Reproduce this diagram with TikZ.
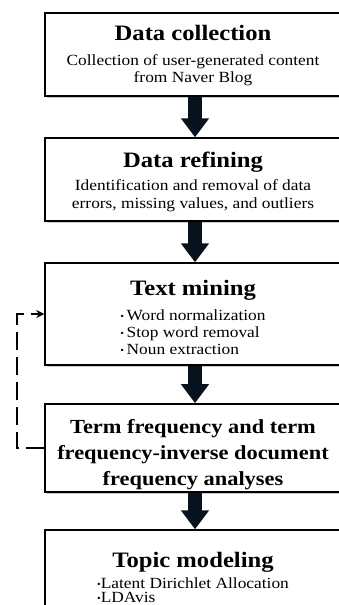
\documentclass[tikz,border=0pt]{standalone}
\usepackage{fontspec}
\setmainfont[FakeStretch=1.12]{Liberation Serif}
\usetikzlibrary{arrows.meta,shadows}
\definecolor{arrowblk}{RGB}{8,18,30}
\newcommand{\tbul}{\raisebox{0.2ex}{\scalebox{0.6}{\textbullet}}}
\newcommand{\ttlf}{\fontsize{22}{26}\selectfont\bfseries}
\newcommand{\bodyf}{\fontsize{15.5}{17.5}\selectfont}
\newcommand{\tstrut}[1]{\rule{0pt}{#1}}
\tikzset{
  stagebox/.style={draw=black, line width=1.4pt, fill=white, minimum width=296pt,
    align=center, inner sep=2pt, font=\bodyf,
    drop shadow={shadow xshift=1.6pt, shadow yshift=-1.8pt, fill=gray!70, opacity=0.6}},
  bigarrow/.style={draw=arrowblk, line width=14pt, -{Triangle[width=27pt,length=19pt]}},
  loopline/.style={line width=2.4pt, dash pattern=on 18pt off 7pt, -{Stealth[length=8pt,width=8pt]}},
}
\begin{document}
\begin{tikzpicture}[x=1pt,y=-1pt]
\useasboundingbox (0,0) rectangle (339,605);
\node[stagebox, minimum height=83pt] (b1) at (193,54.5)
  {{\ttlf \tstrut{18pt}Data collection}\\[7pt]
   Collection of user-generated content\\
   from Naver Blog};
\node[stagebox, minimum height=83pt] (b2) at (193,179.5)
  {{\ttlf \tstrut{20pt}Data refining}\\[6pt]
   Identification and removal of data\\
   errors, missing values, and outliers};
\node[stagebox, minimum height=102pt] (b3) at (193,314)
  {{\ttlf \tstrut{28pt}Text mining}\\[7pt]
   \begin{tabular}{@{}l@{}}
     \tbul\,Word normalization\\[-0.5pt]
     \tbul\,Stop word removal\\[-0.5pt]
     \tbul\,Noun extraction
   \end{tabular}};
\node[stagebox, minimum height=80pt, font=\fontsize{20}{26}\selectfont\bfseries] (b4) at (193,448)
  {\tstrut{28pt}Term frequency and term\\
   frequency-inverse document\\
   frequency analyses};
\node[stagebox, minimum height=100pt] (b5) at (193,580)
  {{\ttlf Topic modeling}\\[3pt]
   \begin{tabular}{@{}l@{}}
     \tbul Latent Dirichlet Allocation\\[-3.5pt]
     \tbul LDAvis
   \end{tabular}};
\draw[bigarrow] ([xshift=2pt]b1.south) -- ([xshift=2pt]b2.north);
\draw[bigarrow] ([xshift=2pt]b2.south) -- ([xshift=2pt]b3.north);
\draw[bigarrow] ([xshift=2pt]b3.south) -- ([xshift=2pt]b4.north);
\draw[bigarrow] ([xshift=2pt]b4.south) -- ([xshift=2pt]b5.north);
\coordinate (lp) at (17,448);
\draw[loopline] (b4.west) -- (lp) |- (b3.west);
\end{tikzpicture}
\end{document}
